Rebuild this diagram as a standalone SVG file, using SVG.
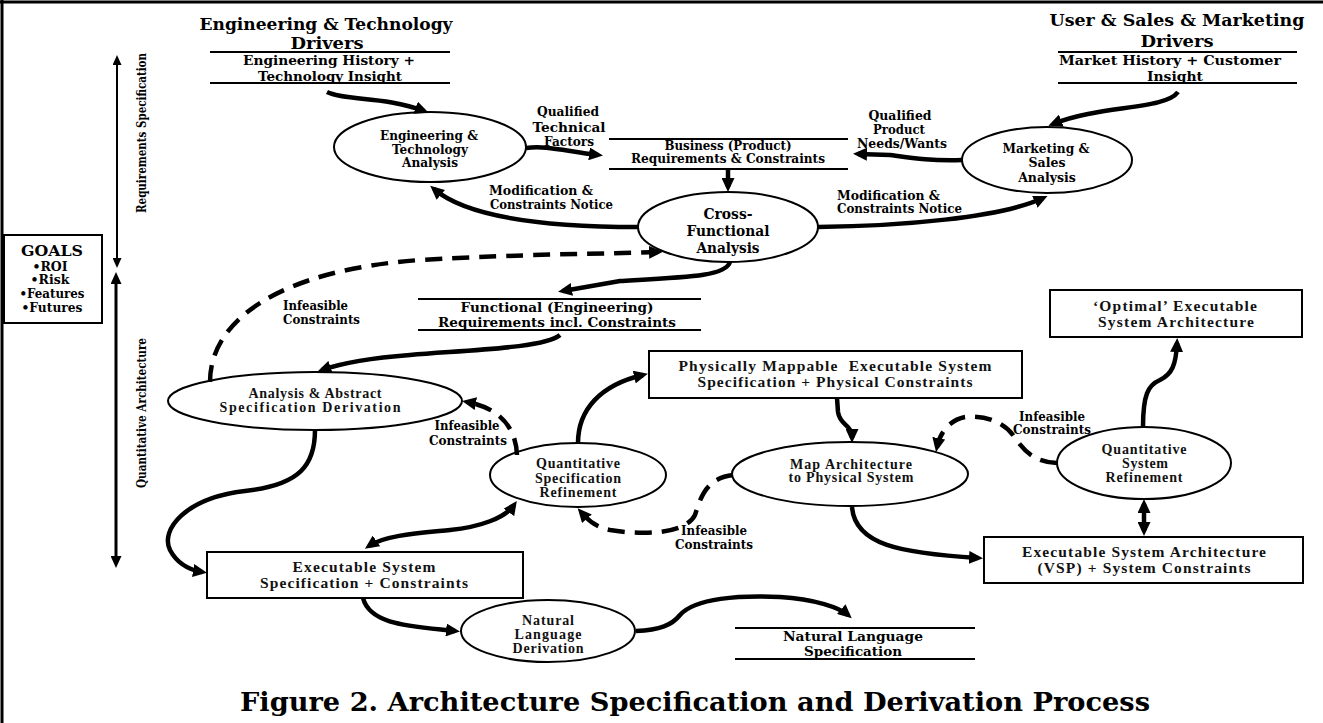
<svg xmlns="http://www.w3.org/2000/svg" width="1323" height="723" viewBox="0 0 1323 723">
<style>
.h{font-family:"DejaVu Serif",serif;font-weight:bold;fill:#000;text-anchor:middle}
.hl{font-family:"DejaVu Serif",serif;font-weight:bold;fill:#000;text-anchor:start}
.l{font-family:"Liberation Serif","Times New Roman",serif;font-weight:bold;fill:#111;text-anchor:middle}
.node{fill:#fff;stroke:#000;stroke-width:2}
.rule{stroke:#000;stroke-width:2;fill:none}
.c{fill:none;stroke:#000;stroke-width:4.5;marker-end:url(#ah)}
.d{fill:none;stroke:#000;stroke-width:4.5;stroke-dasharray:17 10;marker-end:url(#ah)}
.ax{fill:none;stroke:#000}
</style>
<defs>
<marker id="ah" viewBox="0 0 14 13" refX="9" refY="6.5" markerWidth="14" markerHeight="13" markerUnits="userSpaceOnUse" orient="auto-start-reverse"><path d="M0,0 L14,6.5 L0,13 z" fill="#000"/></marker>
<marker id="as" viewBox="0 0 10 9" refX="6" refY="4.5" markerWidth="10" markerHeight="9" markerUnits="userSpaceOnUse" orient="auto-start-reverse"><path d="M0,0 L10,4.5 L0,9 z" fill="#000"/></marker>
<marker id="am" viewBox="0 0 12 11" refX="7" refY="5.5" markerWidth="12" markerHeight="11" markerUnits="userSpaceOnUse" orient="auto-start-reverse"><path d="M0,0 L12,5.5 L0,11 z" fill="#000"/></marker>
</defs>
<rect x="0" y="0" width="1323" height="723" fill="#fff"/>
<g id="frame">
<line x1="0" y1="2" x2="1323" y2="2" stroke="#000" stroke-width="3"/>
<line x1="2" y1="0" x2="2" y2="723" stroke="#000" stroke-width="3"/>
</g>

<g id="eng-drivers">
<text class="h" x="326" y="30" font-size="17.5" textLength="253" lengthAdjust="spacingAndGlyphs">Engineering &amp; Technology</text>
<text class="h" x="327" y="49" font-size="17.5" textLength="73" lengthAdjust="spacingAndGlyphs">Drivers</text>
<line class="rule" x1="210" y1="52" x2="450" y2="52"/>
<text class="h" x="329" y="65" font-size="13" textLength="172" lengthAdjust="spacingAndGlyphs">Engineering History +</text>
<text class="h" x="330" y="81" font-size="13" textLength="144" lengthAdjust="spacingAndGlyphs">Technology Insight</text>
<line class="rule" x1="210" y1="83" x2="450" y2="83"/>
</g>

<g id="market-drivers">
<text class="h" x="1177" y="26" font-size="17.5" textLength="255" lengthAdjust="spacingAndGlyphs">User &amp; Sales &amp; Marketing</text>
<text class="h" x="1177" y="47" font-size="17.5" textLength="73" lengthAdjust="spacingAndGlyphs">Drivers</text>
<line class="rule" x1="1058" y1="52" x2="1297" y2="52"/>
<text class="h" x="1170" y="65" font-size="13" textLength="222" lengthAdjust="spacingAndGlyphs">Market History + Customer</text>
<text class="h" x="1175" y="81" font-size="13" textLength="56" lengthAdjust="spacingAndGlyphs">Insight</text>
<line class="rule" x1="1058" y1="83" x2="1297" y2="83"/>
</g>

<g id="eng-analysis">
<ellipse class="node" cx="430" cy="147" rx="96" ry="35"/>
<text class="h" x="429" y="140" font-size="12.5" textLength="98" lengthAdjust="spacingAndGlyphs">Engineering &amp;</text>
<text class="h" x="430" y="154" font-size="12.5" textLength="76" lengthAdjust="spacingAndGlyphs">Technology</text>
<text class="h" x="430" y="167" font-size="12.5" textLength="56" lengthAdjust="spacingAndGlyphs">Analysis</text>
</g>

<g id="business-req">
<line class="rule" x1="609" y1="139" x2="848" y2="139"/>
<text class="h" x="728" y="150" font-size="12.5" textLength="127" lengthAdjust="spacingAndGlyphs">Business (Product)</text>
<text class="h" x="728" y="163" font-size="12.5" textLength="194" lengthAdjust="spacingAndGlyphs">Requirements &amp; Constraints</text>
<line class="rule" x1="609" y1="169" x2="848" y2="169"/>
</g>

<g id="marketing-analysis">
<ellipse class="node" cx="1047" cy="160" rx="85" ry="33"/>
<text class="h" x="1046" y="153" font-size="12.5" textLength="87" lengthAdjust="spacingAndGlyphs">Marketing &amp;</text>
<text class="h" x="1047" y="167" font-size="12.5">Sales</text>
<text class="h" x="1047" y="182" font-size="12.5">Analysis</text>
</g>

<g id="cross-functional">
<ellipse class="node" cx="728" cy="227" rx="90" ry="35"/>
<text class="h" x="728" y="219" font-size="14" textLength="49" lengthAdjust="spacingAndGlyphs">Cross-</text>
<text class="h" x="728" y="236" font-size="14" textLength="83" lengthAdjust="spacingAndGlyphs">Functional</text>
<text class="h" x="728" y="253" font-size="14" textLength="63" lengthAdjust="spacingAndGlyphs">Analysis</text>
</g>

<g id="goals">
<rect class="node" x="4" y="235" width="98" height="88"/>
<text class="h" x="52" y="256" font-size="15.5" textLength="62" lengthAdjust="spacingAndGlyphs">GOALS</text>
<text class="h" x="50" y="271" font-size="12.5">•ROI</text>
<text class="h" x="50" y="284" font-size="12.5">•Risk</text>
<text class="h" x="52" y="298" font-size="12.5" textLength="65" lengthAdjust="spacingAndGlyphs">•Features</text>
<text class="h" x="52" y="312" font-size="12.5" textLength="61" lengthAdjust="spacingAndGlyphs">•Futures</text>
</g>

<g id="functional-req">
<line class="rule" x1="418" y1="299" x2="701" y2="299"/>
<text class="h" x="557" y="312" font-size="13.5" textLength="193" lengthAdjust="spacingAndGlyphs">Functional (Engineering)</text>
<text class="h" x="557" y="327" font-size="13.5" textLength="238" lengthAdjust="spacingAndGlyphs">Requirements incl. Constraints</text>
<line class="rule" x1="418" y1="330" x2="701" y2="330"/>
</g>

<g id="analysis-abstract">
<ellipse class="node" cx="315" cy="401" rx="147" ry="29"/>
<text class="l" x="315" y="398" font-size="14" textLength="133" lengthAdjust="spacing">Analysis &amp; Abstract</text>
<text class="l" x="310" y="412" font-size="14" textLength="181" lengthAdjust="spacing">Specification Derivation</text>
</g>

<g id="physically-mappable">
<rect class="node" x="649" y="351" width="373" height="47"/>
<text class="l" x="835" y="371" font-size="15.5" textLength="313" lengthAdjust="spacing" xml:space="preserve">Physically Mappable  Executable System</text>
<text class="l" x="835" y="387" font-size="15.5" textLength="275" lengthAdjust="spacing">Specification + Physical Constraints</text>
</g>

<g id="optimal">
<rect class="node" x="1050" y="290" width="252" height="47"/>
<text class="l" x="1175" y="311" font-size="15.5" textLength="164" lengthAdjust="spacing">‘Optimal’ Executable</text>
<text class="l" x="1176" y="327" font-size="15.5" textLength="156" lengthAdjust="spacing">System Architecture</text>
</g>

<g id="quant-spec-refinement">
<ellipse class="node" cx="578" cy="475" rx="88" ry="32"/>
<text class="l" x="578" y="468" font-size="14" textLength="84" lengthAdjust="spacing">Quantitative</text>
<text class="l" x="578" y="483" font-size="14" textLength="86" lengthAdjust="spacing">Specification</text>
<text class="l" x="578" y="497" font-size="14" textLength="77" lengthAdjust="spacing">Refinement</text>
</g>

<g id="map-architecture">
<ellipse class="node" cx="850" cy="474" rx="118" ry="32"/>
<text class="l" x="851" y="469" font-size="14" textLength="122" lengthAdjust="spacing">Map Architecture</text>
<text class="l" x="851" y="482" font-size="14" textLength="125" lengthAdjust="spacing">to Physical System</text>
</g>

<g id="quant-system-refinement">
<ellipse class="node" cx="1144" cy="463" rx="87" ry="36"/>
<text class="l" x="1144" y="454" font-size="14" textLength="85" lengthAdjust="spacing">Quantitative</text>
<text class="l" x="1145" y="468" font-size="14" textLength="46" lengthAdjust="spacing">System</text>
<text class="l" x="1144" y="482" font-size="14" textLength="77" lengthAdjust="spacing">Refinement</text>
</g>

<g id="exec-spec">
<rect class="node" x="207" y="552" width="316" height="46"/>
<text class="l" x="364" y="572" font-size="15.5" textLength="143" lengthAdjust="spacing">Executable System</text>
<text class="l" x="364" y="588" font-size="15.5" textLength="208" lengthAdjust="spacing">Specification + Constraints</text>
</g>

<g id="exec-arch">
<rect class="node" x="984" y="537" width="319" height="46"/>
<text class="l" x="1144" y="557" font-size="15.5" textLength="244" lengthAdjust="spacing">Executable System Architecture</text>
<text class="l" x="1144" y="573" font-size="15.5" textLength="213" lengthAdjust="spacing">(VSP) + System Constraints</text>
</g>

<g id="nl-derivation">
<ellipse class="node" cx="548" cy="631" rx="87" ry="31"/>
<text class="l" x="548" y="625" font-size="14" textLength="52" lengthAdjust="spacing">Natural</text>
<text class="l" x="548" y="639" font-size="14" textLength="67" lengthAdjust="spacing">Language</text>
<text class="l" x="548" y="653" font-size="14" textLength="71" lengthAdjust="spacing">Derivation</text>
</g>

<g id="nl-spec">
<line class="rule" x1="735" y1="628" x2="975" y2="628"/>
<text class="h" x="853" y="641" font-size="13.5" textLength="140" lengthAdjust="spacingAndGlyphs">Natural Language</text>
<text class="h" x="853" y="656" font-size="13.5" textLength="98" lengthAdjust="spacingAndGlyphs">Specification</text>
<line class="rule" x1="735" y1="659" x2="975" y2="659"/>
</g>

<g id="axes">
<line class="ax" x1="117" y1="59" x2="117" y2="264" stroke-width="2" marker-start="url(#as)" marker-end="url(#as)"/>
<line class="ax" x1="116" y1="277" x2="116" y2="563" stroke-width="3" marker-start="url(#am)" marker-end="url(#am)"/>
<text class="h" font-size="12.5" textLength="160" lengthAdjust="spacingAndGlyphs" transform="translate(146,133) rotate(-90)">Requirements Specification</text>
<text class="h" font-size="12.5" textLength="150" lengthAdjust="spacingAndGlyphs" transform="translate(146,413) rotate(-90)">Quantitative Architecture</text>
</g>

<g id="connectors">
<path class="c" d="M327,92 C345,101 385,96 424,111"/>
<path class="c" d="M526,148 C545,145 565,151 598,155"/>
<path class="c" d="M962,160 C930,161 912,158 890,155 L858,154"/>
<path class="c" d="M728,170 L728,187"/>
<path class="c" d="M638,227 C560,227 470,220 434,189"/>
<path class="c" d="M818,227 C900,226 1000,218 1043,198"/>
<path class="c" d="M1178,92 C1165,110 1100,105 1053,124"/>
<path class="d" d="M210,382 C210,320 280,270 420,260 C520,254 600,254 658,252"/>
<path class="c" d="M730,262 C726,276 690,277 620,281 L563,291"/>
<path class="c" d="M560,335 C545,348 470,350 410,355 C370,358 345,362 322,370"/>
<path class="c" d="M578,443 C578,410 600,385 643,375"/>
<path class="c" d="M837,398 L838,412 C840,426 852,424 852,438"/>
<path class="d" d="M733,475 C705,478 700,500 695,515 C685,535 640,535 610,530 C595,527 588,520 581,512"/>
<path class="d" d="M517,455 C516,428 500,408 467,402"/>
<path class="c" d="M315,430 C315,465 300,485 245,491 C185,498 160,530 170,550 C178,565 190,570 202,572"/>
<path class="c" d="M369,546 C385,535 420,533 450,530 C480,527 505,518 514,505" marker-start="url(#ah)"/>
<path class="c" d="M363,598 C370,625 410,626 455,631"/>
<path class="c" d="M636,631 C660,630 672,625 680,615 C695,598 740,595 780,597 C815,599 840,608 848,615"/>
<path class="c" d="M1143,427 C1143,395 1148,385 1160,380 C1172,374 1176,365 1177,343"/>
<path class="d" d="M1057,463 C1035,462 1025,452 1015,438 C1005,422 985,415 965,417 C950,420 940,432 937,447"/>
<path class="c" d="M1144,504 L1144,531" marker-start="url(#ah)"/>
<path class="c" d="M852,507 C855,545 900,553 978,558"/>
</g>

<g id="labels">
<text class="h" x="568" y="116" font-size="12" textLength="62" lengthAdjust="spacingAndGlyphs">Qualified</text>
<text class="h" x="569" y="132" font-size="13.5" textLength="73" lengthAdjust="spacingAndGlyphs">Technical</text>
<text class="h" x="569" y="146" font-size="12" textLength="50" lengthAdjust="spacingAndGlyphs">Factors</text>
<text class="h" x="900" y="120" font-size="12" textLength="63" lengthAdjust="spacingAndGlyphs">Qualified</text>
<text class="h" x="899" y="134" font-size="12" textLength="52" lengthAdjust="spacingAndGlyphs">Product</text>
<text class="h" x="902" y="148" font-size="12" textLength="90" lengthAdjust="spacingAndGlyphs">Needs/Wants</text>
<text class="hl" x="489" y="195" font-size="12" textLength="104" lengthAdjust="spacingAndGlyphs">Modification &amp;</text>
<text class="hl" x="490" y="209" font-size="12" textLength="123" lengthAdjust="spacingAndGlyphs">Constraints Notice</text>
<text class="hl" x="837" y="200" font-size="12" textLength="103" lengthAdjust="spacingAndGlyphs">Modification &amp;</text>
<text class="hl" x="837" y="213" font-size="12" textLength="125" lengthAdjust="spacingAndGlyphs">Constraints Notice</text>
<text class="hl" x="283" y="310" font-size="12" textLength="65" lengthAdjust="spacingAndGlyphs">Infeasible</text>
<text class="hl" x="283" y="324" font-size="12" textLength="77" lengthAdjust="spacingAndGlyphs">Constraints</text>
<text class="h" x="467" y="430" font-size="12" textLength="65" lengthAdjust="spacingAndGlyphs">Infeasible</text>
<text class="h" x="468" y="445" font-size="12" textLength="78" lengthAdjust="spacingAndGlyphs">Constraints</text>
<text class="h" x="714" y="535" font-size="12" textLength="66" lengthAdjust="spacingAndGlyphs">Infeasible</text>
<text class="h" x="714" y="549" font-size="12" textLength="78" lengthAdjust="spacingAndGlyphs">Constraints</text>
<text class="h" x="1052" y="421" font-size="12" textLength="66" lengthAdjust="spacingAndGlyphs">Infeasible</text>
<text class="h" x="1052" y="434" font-size="12" textLength="78" lengthAdjust="spacingAndGlyphs">Constraints</text>
</g>

<g id="caption">
<text class="h" x="695" y="711" font-size="25.5" textLength="910" lengthAdjust="spacingAndGlyphs">Figure 2. Architecture Specification and Derivation Process</text>
</g>
</svg>
